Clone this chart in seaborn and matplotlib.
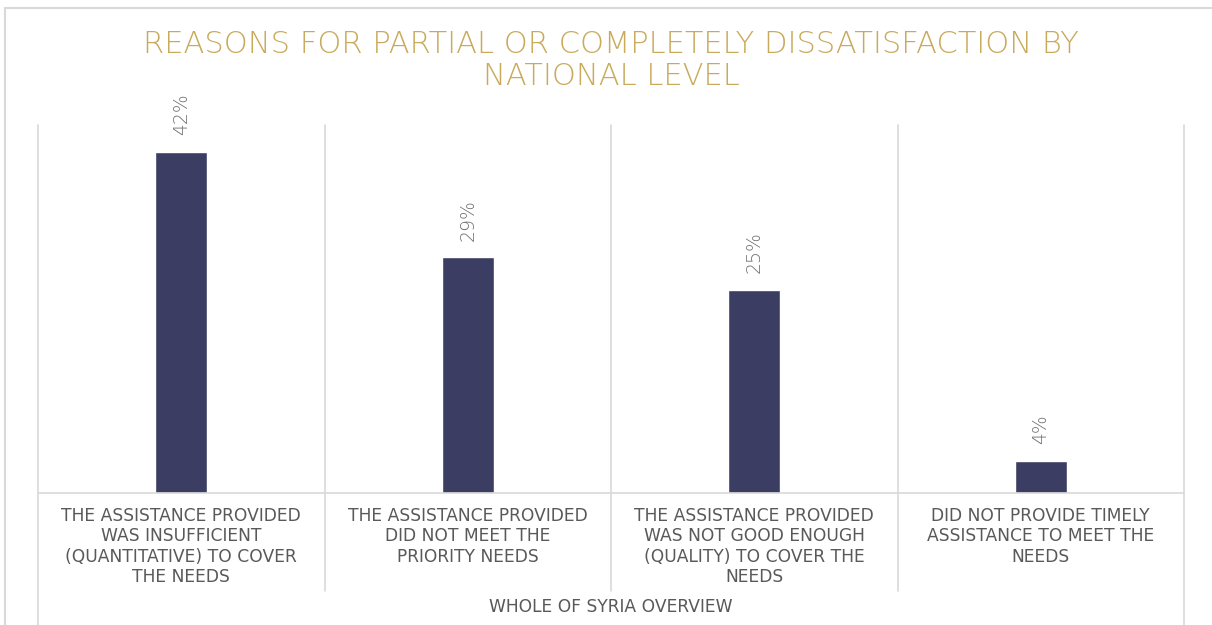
import matplotlib
matplotlib.use("Agg")
import matplotlib.pyplot as plt
import matplotlib.transforms as mtransforms
from matplotlib.patches import Rectangle
import seaborn as sns
import pandas as pd

categories = [
    "THE ASSISTANCE PROVIDED\nWAS INSUFFICIENT\n(QUANTITATIVE) TO COVER\nTHE NEEDS",
    "THE ASSISTANCE PROVIDED\nDID NOT MEET THE\nPRIORITY NEEDS",
    "THE ASSISTANCE PROVIDED\nWAS NOT GOOD ENOUGH\n(QUALITY) TO COVER THE\nNEEDS",
    "DID NOT PROVIDE TIMELY\nASSISTANCE TO MEET THE\nNEEDS",
]
values = [42, 29, 25, 4]
group_label = "WHOLE OF SYRIA OVERVIEW"
title = "REASONS FOR PARTIAL OR COMPLETELY DISSATISFACTION BY\nNATIONAL LEVEL"

sns.set_theme(style="white")
plt.rcParams["font.family"] = ["DejaVu Sans"]

BAR = "#3B3D63"
GRID = "#D9D9D9"
TXT = "#595959"
LBL = "#6E6E6E"
GOLD = "#C9AA5B"

df = pd.DataFrame({"cat": categories, "val": values})

fig = plt.figure(figsize=(12.12, 6.25), dpi=100)
ax = fig.add_axes([38 / 1212, 1 - 493 / 625, (1184 - 38) / 1212, (493 - 125) / 625])

sns.barplot(data=df, x="cat", y="val", color=BAR, width=0.18, ax=ax, saturation=1)

ax.set_ylim(0, 45.3)
ax.set_xlim(-0.5, len(categories) - 0.5)
for s in ["top", "left", "right"]:
    ax.spines[s].set_visible(False)
ax.spines["bottom"].set_color(GRID)
ax.spines["bottom"].set_linewidth(1.2)
ax.set_yticks([])
ax.set_ylabel("")
ax.tick_params(axis="x", length=0, pad=10)
ax.set_xticks(range(len(categories)))
ax.set_xticklabels(categories, color=TXT, fontsize=12.3, linespacing=1.18)
ax.set_xlabel(group_label, color=TXT, fontsize=12.3, labelpad=8)

trans = mtransforms.blended_transform_factory(ax.transData, ax.transAxes)
n = len(categories)
for i in range(n + 1):
    b = i - 0.5
    bottom = -0.36 if i in (0, n) else -0.265
    ax.plot([b, b], [1, bottom], transform=trans, color=GRID, lw=1.2,
            clip_on=False, zorder=0)

for c in ax.containers:
    ax.bar_label(c, labels=[f"{v:.0f}%" for v in values], rotation=90,
                 padding=12, color=LBL, fontsize=13.5, fontweight="light")

fig.text(611 / 1212, 1 - 30 / 625, title, ha="center", va="top", color=GOLD,
         fontsize=22, linespacing=1.15, fontweight="light")

fig.patches.append(Rectangle((5 / 1212, -0.1), 1.2, 0.1 + 1 - 8 / 625,
                             transform=fig.transFigure, fill=False,
                             edgecolor=GRID, lw=1.5, zorder=0))

fig.savefig("out.png", dpi=100)
